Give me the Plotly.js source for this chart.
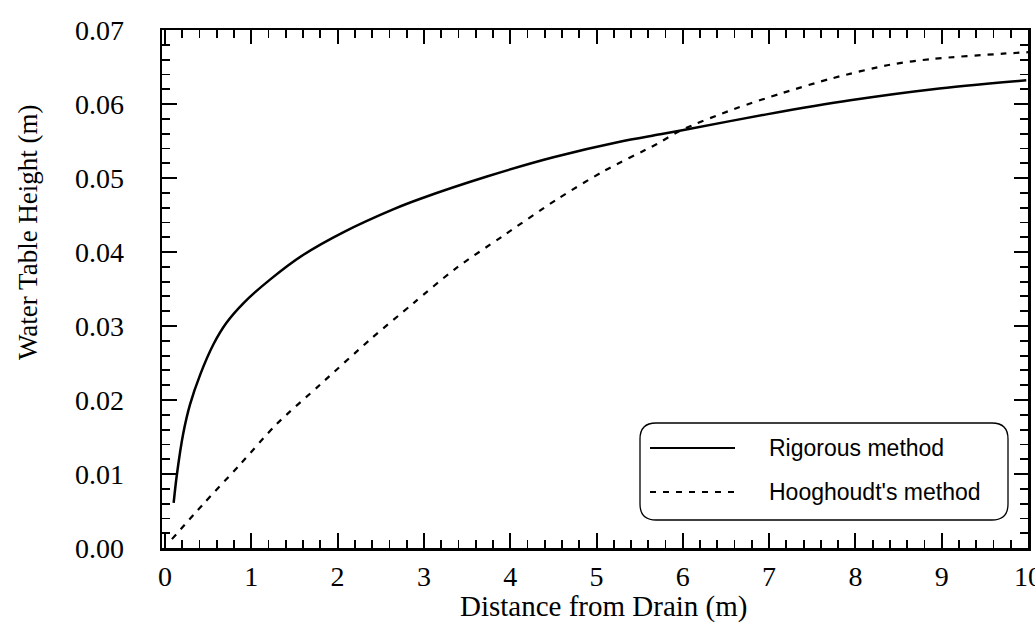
<!DOCTYPE html>
<html><head><meta charset="utf-8">
<script src="https://cdn.plot.ly/plotly-3.0.1.min.js"></script>
<style>html,body{margin:0;padding:0;background:#fff}</style>
</head><body><div id="chart" style="width:1035px;height:624px"></div>
<script>
// Data
const rigorousX = [0.10,0.135,0.21,0.29,0.41,0.56,0.71,0.91,1.22,1.60,2.07,2.65,2.96,3.73,4.50,5.27,5.74,6.01,6.97,7.94,8.90,9.98];
const rigorousY = [0.0061,0.0097,0.0154,0.0194,0.0235,0.0275,0.0304,0.0331,0.0363,0.0396,0.0427,0.0458,0.0472,0.0502,0.0528,0.0549,0.0559,0.0565,0.0586,0.0605,0.0620,0.0632];
const hooghoudtX = [0.08,0.44,0.87,1.29,1.80,2.38,2.88,3.36,3.92,4.54,5.08,5.70,5.97,6.59,7.16,7.74,8.40,8.90,9.71,10.0];
const hooghoudtY = [0.0012,0.0059,0.0113,0.0167,0.0221,0.0282,0.0331,0.0377,0.0422,0.0471,0.0509,0.0546,0.0564,0.0593,0.0615,0.0635,0.0653,0.0661,0.0668,0.0670];
const seriesNames = ["Rigorous method", "Hooghoudt's method"];
const xTickVals = [0,1,2,3,4,5,6,7,8,9,10];
const xTickText = ["0","1","2","3","4","5","6","7","8","9","10"];
const yTickVals = [0,0.01,0.02,0.03,0.04,0.05,0.06,0.07];
const yTickText = ["0.00","0.01","0.02","0.03","0.04","0.05","0.06","0.07"];

const W = 1035, H = 624;
const M = {l:162, r:7, t:30, b:76};
const PW = W - M.l - M.r, PH = H - M.t - M.b;
const px = v => (v - M.l) / PW;
const py = v => (H - M.b - v) / PH;

function roundRect(x0, y0, x1, y1, r) {
  const rx = r / PW, ry = r / PH;
  const a = px(x0), b = px(x1), top = py(y0), bot = py(y1);
  return `M${a+rx},${top} L${b-rx},${top} Q${b},${top} ${b},${top-ry} L${b},${bot+ry} Q${b},${bot} ${b-rx},${bot} L${a+rx},${bot} Q${a},${bot} ${a},${bot+ry} L${a},${top-ry} Q${a},${top} ${a+rx},${top} Z`;
}

const serif = "Liberation Serif, Times New Roman, serif";
const sans = "Liberation Sans, Arial, sans-serif";

const traces = [
  {x: rigorousX, y: rigorousY, name: seriesNames[0], mode: "lines", line: {color: "#000", width: 2.5, shape: "spline", smoothing: 0.8}, showlegend: false},
  {x: hooghoudtX, y: hooghoudtY, name: seriesNames[1], mode: "lines", line: {color: "#000", width: 2.2, dash: "6px,7px", shape: "spline", smoothing: 0.8}, showlegend: false},
  // empty helper trace so the mirrored top/right axes are built
  {x: [], y: [], xaxis: "x2", yaxis: "y2", mode: "lines", showlegend: false, hoverinfo: "skip"}
];

const tickCommon = {
  showgrid: false, zeroline: false, showline: true, linecolor: "#000", linewidth: 2.5,
  ticks: "inside", tickcolor: "#000", tickwidth: 2, ticklen: 15,
  tickfont: {family: serif, size: 28, color: "#000"}, tickmode: "array"
};
const xMinor = {dtick: 0.2, tick0: 0, ticks: "inside", ticklen: 8, tickwidth: 1.8, tickcolor: "#000", showgrid: false};
const yMinor = {dtick: 0.002, tick0: 0, ticks: "inside", ticklen: 8, tickwidth: 1.8, tickcolor: "#000", showgrid: false};

const layout = {
  width: W, height: H, margin: M, paper_bgcolor: "#fff", plot_bgcolor: "#fff",
  xaxis: Object.assign({}, tickCommon, {
    range: [-0.035, 10], tickvals: xTickVals, ticktext: xTickText, ticklabelstandoff: 2,
    ticklabeloverflow: "allow", minor: xMinor
  }),
  yaxis: Object.assign({}, tickCommon, {
    range: [0, 0.07], tickvals: yTickVals, ticktext: yTickText, ticklabelstandoff: 30, minor: yMinor
  }),
  xaxis2: Object.assign({}, tickCommon, {
    overlaying: "x", side: "top", range: [-0.035, 10], tickvals: xTickVals, showticklabels: false, ticklen: 14, minor: xMinor, anchor: "y2"
  }),
  yaxis2: Object.assign({}, tickCommon, {
    overlaying: "y", side: "right", range: [0, 0.07], tickvals: yTickVals, showticklabels: false, ticklen: 14, minor: yMinor, anchor: "x2"
  }),
  showlegend: false,
  shapes: [
    {type: "path", xref: "paper", yref: "paper", path: roundRect(640, 423, 1008, 520, 16), line: {color: "#000", width: 1.3}, fillcolor: "rgba(255,255,255,1)", layer: "above"},
    {type: "line", xref: "paper", yref: "paper", x0: px(650), x1: px(735), y0: py(448), y1: py(448), line: {color: "#000", width: 2.2}},
    {type: "line", xref: "paper", yref: "paper", x0: px(650), x1: px(737), y0: py(492), y1: py(492), line: {color: "#000", width: 2, dash: "6px,7px"}}
  ],
  annotations: [
    {xref: "paper", yref: "paper", x: px(767), y: py(448), xanchor: "left", yanchor: "middle", text: seriesNames[0], showarrow: false, font: {family: sans, size: 23, color: "#000"}},
    {xref: "paper", yref: "paper", x: px(767), y: py(492), xanchor: "left", yanchor: "middle", text: seriesNames[1], showarrow: false, font: {family: sans, size: 23, color: "#000"}},
    {xref: "paper", yref: "paper", x: px(603), y: py(607), xanchor: "center", yanchor: "middle", text: "Distance from Drain (m)", showarrow: false, font: {family: serif, size: 29, color: "#000"}},
    {xref: "paper", yref: "paper", x: px(28), y: py(232), xanchor: "center", yanchor: "middle", textangle: -90, text: "Water Table Height (m)", showarrow: false, font: {family: serif, size: 27, color: "#000"}}
  ]
};

Plotly.newPlot("chart", traces, layout, {displayModeBar: false, staticPlot: true});
</script></body></html>
